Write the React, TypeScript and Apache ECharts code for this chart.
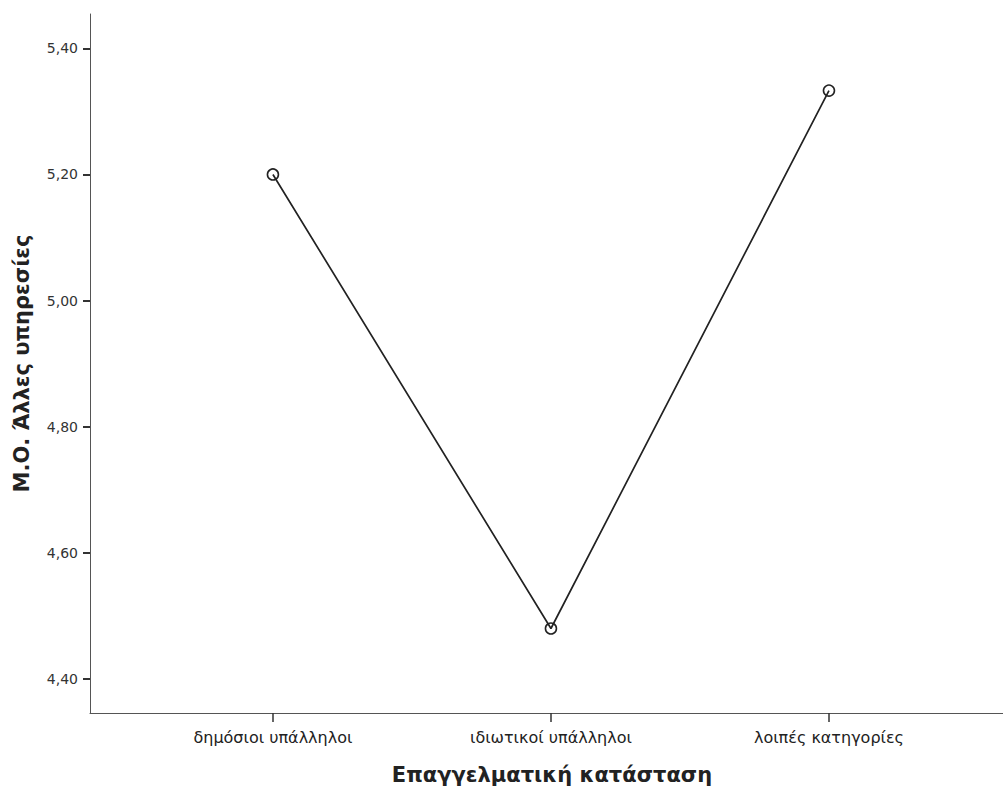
import React, { useEffect, useRef } from "react";
import * as echarts from "echarts";

const categories = ["δημόσιοι υπάλληλοι", "ιδιωτικοί υπάλληλοι", "λοιπές κατηγορίες"];
const meanValues = [5.2, 4.48, 5.333];
const yTicks = [4.4, 4.6, 4.8, 5.0, 5.2, 5.4];
const xTicks = [0, 1, 2];
const yTitle = "Μ.Ο. Άλλες υπηρεσίες";
const xTitle = "Επαγγελματική κατάσταση";

export default function App() {
  const ref = useRef<HTMLDivElement>(null);
  useEffect(() => {
    if (!ref.current) return;
    const chart = echarts.init(ref.current, undefined, { renderer: "svg" });
    const font = "'DejaVu Sans', Verdana, sans-serif";
    chart.setOption({
      animation: false,
      backgroundColor: "#ffffff",
      grid: { left: 90, top: 14, right: 0, bottom: 74, containLabel: false, outerBoundsMode: "none" },
      xAxis: {
        type: "value",
        min: -0.658,
        max: 2.626,
        name: xTitle,
        nameLocation: "middle",
        nameGap: 51,
        nameTextStyle: { fontFamily: font, fontSize: 21, fontWeight: "bold", color: "#222", padding: [0, 0, 0, 11] },
        splitLine: { show: false },
        axisLine: { show: true, onZero: false, lineStyle: { color: "#555", width: 1 } },
        axisTick: { show: true, customValues: xTicks, length: 9, lineStyle: { color: "#333", width: 1.5 } },
        axisLabel: {
          customValues: xTicks,
          formatter: (v: number) => categories[Math.round(v)] ?? "",
          fontFamily: font,
          fontSize: 16,
          color: "#222",
          margin: 16,
        },
      },
      yAxis: {
        type: "value",
        min: 4.346,
        max: 5.4545,
        name: yTitle,
        nameLocation: "middle",
        nameGap: 58,
        nameTextStyle: { fontFamily: font, fontSize: 21, fontWeight: "bold", color: "#222" },
        splitLine: { show: false },
        axisLine: { show: true, onZero: false, lineStyle: { color: "#555", width: 1 } },
        axisTick: { show: true, customValues: yTicks, length: 7, lineStyle: { color: "#333", width: 2 } },
        axisLabel: {
          customValues: yTicks,
          formatter: (v: number) => v.toFixed(2).replace(".", ","),
          fontFamily: font,
          fontSize: 14,
          color: "#333",
          margin: 12,
        },
      },
      series: [
        {
          type: "line",
          data: meanValues.map((v, i) => [xTicks[i], v]),
          symbol: "circle",
          symbolSize: 11,
          lineStyle: { color: "#222", width: 1.7 },
          itemStyle: { color: "rgba(0,0,0,0)", borderWidth: 1.6, borderColor: "#222" },
        },
      ],
    });
    return () => chart.dispose();
  }, []);
  return (
    <div
      ref={ref}
      style={{ position: "fixed", left: 0, top: 0, width: 1003, height: 787, background: "#fff" }}
    />
  );
}
